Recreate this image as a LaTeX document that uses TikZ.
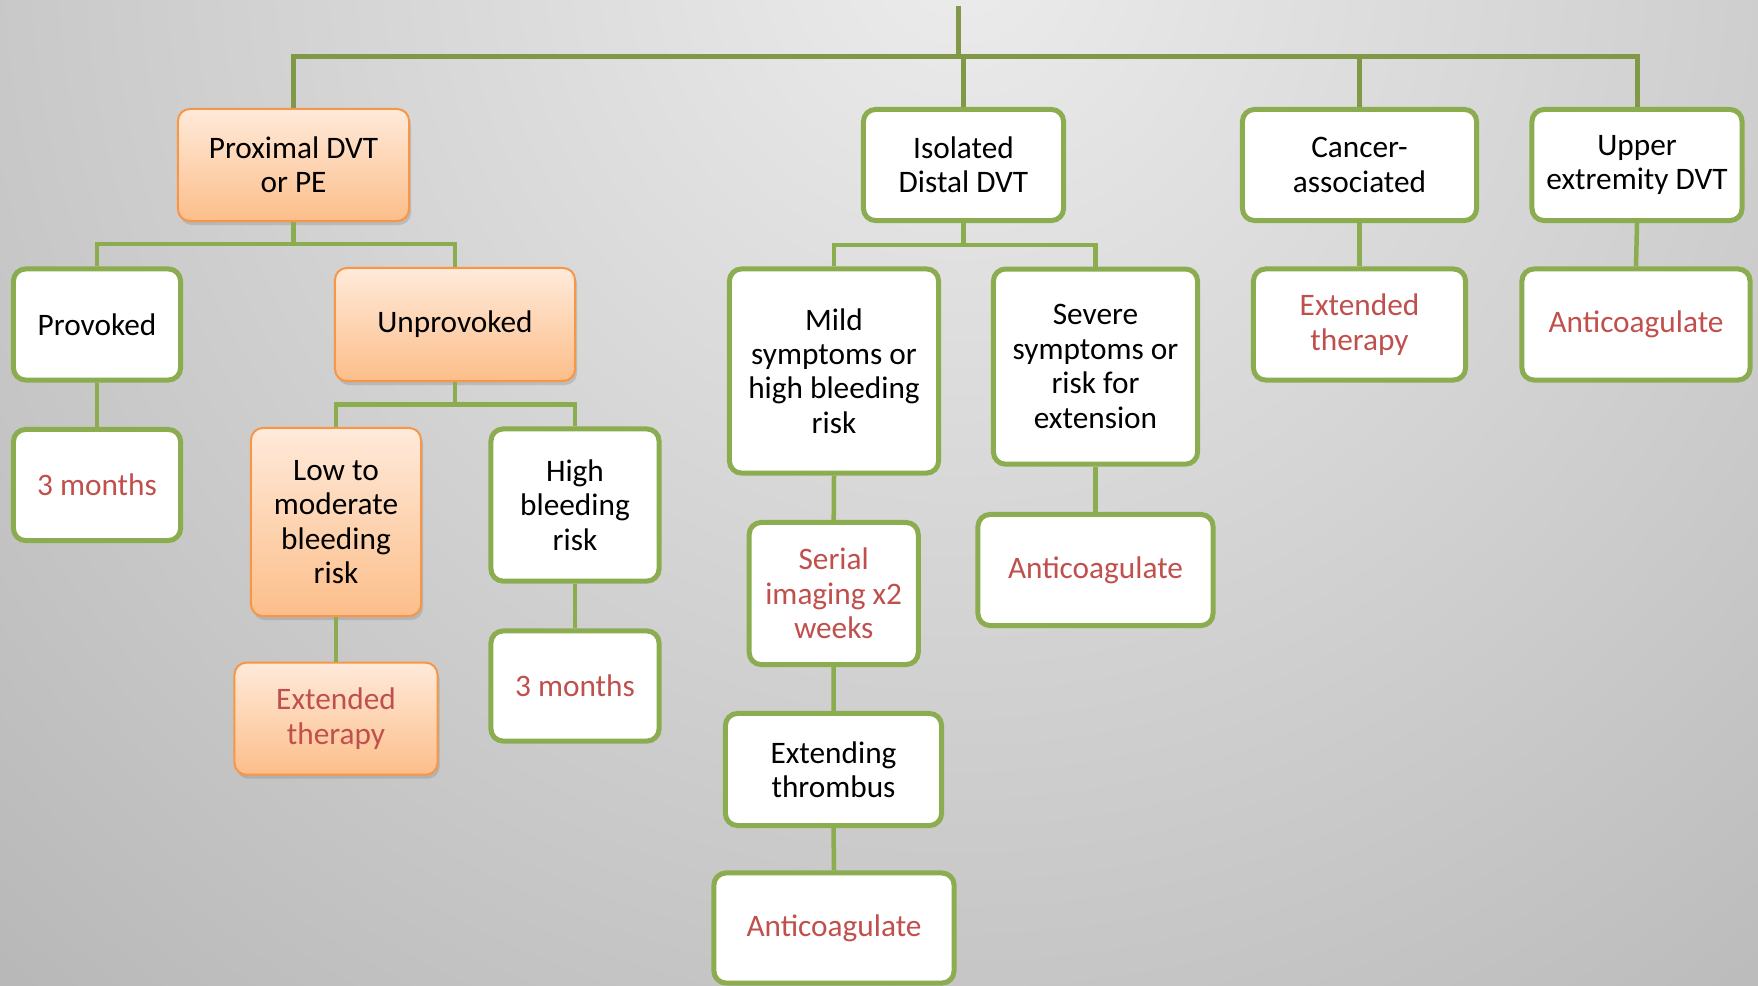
\documentclass[tikz,border=0pt]{standalone}
\usepackage{fontspec}
\setmainfont{Carlito}
\usepackage{tikz}
\usetikzlibrary{shadows}
\definecolor{treegreen}{RGB}{140,172,80}
\definecolor{trunkgreen}{RGB}{128,152,72}
\definecolor{advicered}{RGB}{192,80,77}
\definecolor{peachtop}{RGB}{255,234,218}
\definecolor{peachbot}{RGB}{252,190,138}
\definecolor{peachline}{RGB}{247,150,70}
\definecolor{bglight}{RGB}{236,236,236}
\definecolor{bgdark}{RGB}{158,158,158}

\begin{document}
\begin{tikzpicture}[x=0.01cm,y=-0.01cm,
    every node/.style={font=\fontsize{8.9}{9.8}\selectfont,align=center,inner sep=0pt},
    box/.style={draw=treegreen,line width=0.05cm,fill=white,rounded corners=0.12cm},
    peach/.style={draw=peachline,line width=0.02cm,top color=peachtop,bottom color=peachbot,
        rounded corners=0.12cm,drop shadow={opacity=0.3,shadow xshift=0.02cm,shadow yshift=-0.04cm}},
    advice/.style={text=advicered},
    link/.style={treegreen,line width=0.045cm},
    trunk/.style={trunkgreen,line width=0.05cm}]
    \useasboundingbox (0,0) rectangle (1758,985);
    \clip (0,0) rectangle (1758,985);
    \shade[inner color=bglight,outer color=bgdark] (960,-50) circle (21cm);
    
    % Top row
    \node[peach,minimum width=2.31cm,minimum height=1.12cm] (prox) at (293.5,165) {Proximal DVT\\or PE};
    \node[box,minimum width=2.00cm,minimum height=1.11cm] (iso) at (963.5,165) {Isolated\\Distal DVT};
    \node[box,minimum width=2.34cm,minimum height=1.11cm] (cancer) at (1359.5,165) {Cancer-\\associated};
    \node[box,minimum width=2.10cm,minimum height=1.11cm] (upper) at (1637,165) {Upper\\extremity DVT};
    
    % Proximal branch
    \node[box,minimum width=1.67cm,minimum height=1.11cm] (prov) at (97,324.5) {Provoked};
    \node[peach,minimum width=2.40cm,minimum height=1.13cm] (unprov) at (455,324.5) {Unprovoked};
    \node[box,advice,minimum width=1.67cm,minimum height=1.11cm] (prov3m) at (97,485) {3 months};
    \node[peach,minimum width=1.70cm,minimum height=1.88cm] (lowmod) at (336,522) {Low to\\moderate\\bleeding\\risk};
    \node[box,minimum width=1.68cm,minimum height=1.52cm] (highbl) at (575,505) {High\\bleeding\\risk};
    \node[peach,advice,minimum width=2.03cm,minimum height=1.12cm] (extO) at (336,718.7) {Extended\\therapy};
    \node[box,advice,minimum width=1.68cm,minimum height=1.10cm] (high3m) at (575,686) {3 months};
    
    % Distal branch
    \node[box,minimum width=2.09cm,minimum height=2.04cm] (mild) at (834,371) {Mild\\symptoms or\\high bleeding\\risk};
    \node[box,minimum width=2.04cm,minimum height=1.95cm] (severe) at (1095.5,366.6) {Severe\\symptoms or\\risk for\\extension};
    \node[box,advice,minimum width=1.69cm,minimum height=1.42cm] (serial) at (833.7,593.5) {Serial\\imaging x2\\weeks};
    \node[box,advice,minimum width=2.35cm,minimum height=1.11cm] (sevAnti) at (1095.5,570) {Anticoagulate};
    \node[box,minimum width=2.16cm,minimum height=1.12cm] (extend) at (833.5,769.5) {Extending\\thrombus};
    \node[box,advice,minimum width=2.40cm,minimum height=1.10cm] (bottomAnti) at (834,928) {Anticoagulate};
    
    % Other branches
    \node[box,advice,minimum width=2.12cm,minimum height=1.11cm] (cancerExt) at (1359.5,324.5) {Extended\\therapy};
    \node[box,advice,minimum width=2.28cm,minimum height=1.11cm] (upperAnti) at (1636,324.5) {Anticoagulate};
    
    % Connectors
    \coordinate (root) at (958,6);
    \coordinate (rootbus) at (0,56.5);
    \draw[trunk] (root) -- (root |- rootbus);
    \draw[trunk] (prox.north) |- (upper.north |- rootbus) -- (upper.north);
    \draw[trunk] (iso.north) -- (iso.north |- rootbus);
    \draw[trunk] (cancer.north) -- (cancer.north |- rootbus);
    
    \coordinate (proxbus) at (0,244);
    \draw[link] (prox.south) -- (prox.south |- proxbus);
    \draw[link] (prov.north) |- (unprov.north |- proxbus) -- (unprov.north);
    \draw[link] (prov.south) -- (prov3m.north);
    \coordinate (unprovbus) at (0,404.7);
    \draw[link] (unprov.south) -- (unprov.south |- unprovbus);
    \draw[link] (lowmod.north) |- (highbl.north |- unprovbus) -- (highbl.north);
    \draw[link] (lowmod.south) -- (extO.north);
    \draw[link] (highbl.south) -- (high3m.north);
    
    \coordinate (isobus) at (0,245);
    \draw[link] (iso.south) -- (iso.south |- isobus);
    \draw[link] (mild.north) |- (severe.north |- isobus) -- (severe.north);
    \draw[link] (mild.south) -- (serial.north);
    \draw[link] (serial.south) -- (extend.north);
    \draw[link] (extend.south) -- (bottomAnti.north);
    \draw[link] (severe.south) -- (sevAnti.north);
    \draw[link] (cancer.south) -- (cancerExt.north);
    \draw[link] (upper.south) -- (upperAnti.north);
\end{tikzpicture}
\end{document}
